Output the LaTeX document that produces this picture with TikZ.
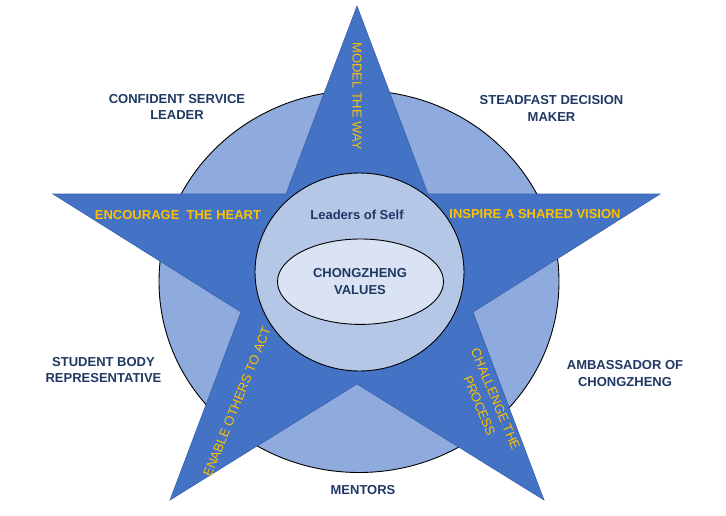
\documentclass[tikz,border=0pt]{standalone}
\usepackage{fontspec}
\setmainfont{Liberation Sans}
\definecolor{starblue}{HTML}{4472C4}
\definecolor{staredge}{HTML}{3A62AE}
\definecolor{ringblue}{HTML}{8FAADC}
\definecolor{innerblue}{HTML}{B4C7E7}
\definecolor{coreblue}{HTML}{DAE3F3}
\definecolor{navy}{HTML}{1F3864}
\definecolor{gold}{HTML}{FFC000}
\begin{document}
\begin{tikzpicture}[x=1pt,y=-1pt,
  outerlabel/.style={text=navy, font=\fontsize{13pt}{16.5pt}\selectfont\bfseries, align=center, inner sep=0pt},
  starlabel/.style={text=gold, font=\fontsize{13pt}{17.5pt}\selectfont, align=center, inner sep=0pt},
  starlabelb/.style={starlabel, font=\fontsize{13pt}{16pt}\selectfont\bfseries},
  ring/.style={draw=black, line width=0.9pt}
]
\useasboundingbox (0,0) rectangle (726,515);
% outer ring
\filldraw[ring, fill=ringblue] (359,281.5) ellipse [x radius=200, y radius=191];
% star
\filldraw[fill=starblue, draw=staredge, line width=0.6pt, line join=miter]
  (357,6) -- (428,194) -- (660,194) -- (473,312) -- (544,500) -- (357,384)
  -- (170,500) -- (241,312) -- (53,194) -- (286,194) -- cycle;
% inner circle
\filldraw[ring, fill=innerblue] (359.5,272) ellipse [x radius=104.5, y radius=99];
% core ellipse
\filldraw[ring, fill=coreblue] (360.5,281.7) ellipse [x radius=83, y radius=42.7];

% inner texts
\node[outerlabel] (self) at (357,215) {Leaders of Self};
\node[outerlabel] (values) at (360,281.5) {CHONGZHENG\\VALUES};

% star labels
\node[starlabel, rotate=-90] (model) at (357,96) {MODEL THE WAY};
\node[starlabelb] (encourage) at (178,215) {ENCOURAGE\ \ THE HEART};
\node[starlabelb] (inspire) at (535,214) {INSPIRE A SHARED VISION};
\node[starlabel, rotate=68] (enable) at (237,402) {ENABLE OTHERS TO ACT};
\node[starlabel, rotate=-67.5] (challenge) at (487.5,402.5) {CHALLENGE THE\\PROCESS};

% outer labels
\node[outerlabel] (confident) at (177,107) {CONFIDENT SERVICE\\LEADER};
\node[outerlabel] (steadfast) at (551.5,108.3) {STEADFAST DECISION\\MAKER};
\node[outerlabel] (student) at (103.5,370) {STUDENT BODY\\REPRESENTATIVE};
\node[outerlabel] (ambassador) at (625,373.3) {AMBASSADOR OF\\CHONGZHENG};
\node[outerlabel] (mentors) at (363,490) {MENTORS};
\end{tikzpicture}
\end{document}
